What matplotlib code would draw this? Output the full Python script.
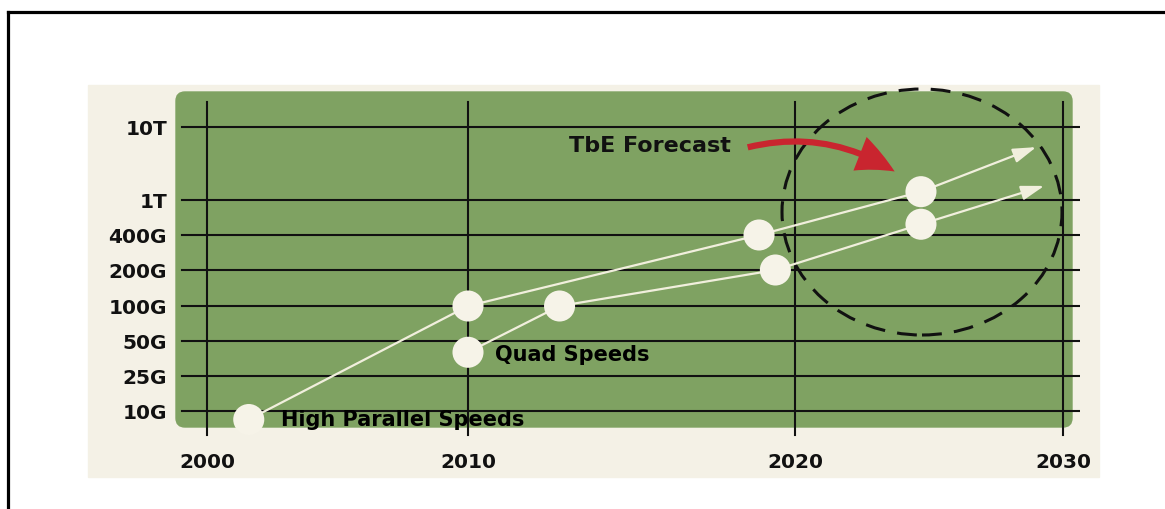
"""Ethernet speed roadmap (TbE forecast) redrawn with matplotlib."""
import matplotlib

matplotlib.use("Agg")
import matplotlib.pyplot as plt  # noqa: E402
import numpy as np  # noqa: E402
from matplotlib.lines import Line2D  # noqa: E402
from matplotlib.patches import Ellipse, FancyArrowPatch, FancyBboxPatch, Rectangle  # noqa: E402

# ---- data -------------------------------------------------------------
YEAR_TICKS = [2000, 2010, 2020, 2030]
RATE_TICKS = [10, 25, 50, 100, 200, 400, 1000, 10000]          # Gb/s
RATE_LABELS = ["10G", "25G", "50G", "100G", "200G", "400G", "1T", "10T"]

PARALLEL_YEARS = [2001.6, 2010.0, 2018.9, 2024.7]
PARALLEL_RATES = [8, 100, 400, 1300]
PARALLEL_NEXT = (2029.0, 5300)

QUAD_YEARS = [2010.0, 2012.8, 2019.4, 2024.7]
QUAD_RATES = [40, 100, 200, 530]
QUAD_NEXT = (2029.3, 1560)

# ---- layout (the original chart has an irregular, hand drawn grid) ----
W, H = 1165, 510
X_TICK_PX = [207, 468, 795, 1063]
Y_TICK_PX = [412, 377, 342, 307, 271, 236, 201, 128]
AX_L, AX_R, AX_T, AX_B = 176, 1080, 86, 440

GREEN = "#7fa262"
BEIGE = "#f4f1e6"
CREAM = "#f6f3e8"
LINE = "#f1efdd"
RED = "#c9252f"

plt.rcParams["font.family"] = ["DejaVu Sans"]
plt.rcParams["font.weight"] = "bold"


def interp_ext(x, xp, fp):
    x = np.asarray(x, dtype=float)
    xp, fp = np.asarray(xp, float), np.asarray(fp, float)
    y = np.interp(x, xp, fp)
    lo, hi = x < xp[0], x > xp[-1]
    y = np.where(lo, fp[0] + (x - xp[0]) * (fp[1] - fp[0]) / (xp[1] - xp[0]), y)
    y = np.where(hi, fp[-1] + (x - xp[-1]) * (fp[-1] - fp[-2]) / (xp[-1] - xp[-2]), y)
    return y


LOGS = np.log10(RATE_TICKS)
NEG_PX = -np.asarray(Y_TICK_PX, float)


def x_fwd(yr):
    return interp_ext(yr, YEAR_TICKS, X_TICK_PX)


def x_inv(p):
    return interp_ext(p, X_TICK_PX, YEAR_TICKS)


def y_fwd(v):
    return interp_ext(np.log10(np.clip(v, 1e-3, None)), LOGS, NEG_PX)


def y_inv(p):
    return 10 ** interp_ext(p, NEG_PX, LOGS)


def fx(x):
    return x / W


def fy(y):
    return 1 - y / H


fig = plt.figure(figsize=(W / 100, H / 100), dpi=100)
fig.patch.set_facecolor("white")
ax = fig.add_axes([fx(AX_L), fy(AX_B), (AX_R - AX_L) / W, (AX_B - AX_T) / H])
ax.patch.set_visible(False)
for s in ax.spines.values():
    s.set_visible(False)

ax.set_xscale("function", functions=(x_fwd, x_inv))
ax.set_yscale("function", functions=(y_fwd, y_inv))
ax.set_xlim(float(x_inv(AX_L)), float(x_inv(AX_R)))
ax.set_ylim(float(y_inv(-AX_B)), float(y_inv(-AX_T)))

# background panels
ax.add_patch(Rectangle((fx(88), fy(478)), (1099 - 88) / W, (478 - 86) / H,
                       transform=fig.transFigure, color=BEIGE, clip_on=False, zorder=0))
ax.add_patch(FancyBboxPatch((fx(176), fy(428)), (1072 - 176) / W, (428 - 93) / H,
                            boxstyle=f"round,pad=0,rounding_size={9 / W}", mutation_aspect=W / H,
                            transform=fig.transFigure, color=GREEN, clip_on=False, zorder=0.5))

# frame lines of the original picture (top and left only)
fig.add_artist(Line2D([fx(8), 1], [fy(13), fy(13)], color="black", lw=2.3))
fig.add_artist(Line2D([fx(8), fx(8)], [fy(13), 0], color="black", lw=2.3))

# grid
span_w, span_h = AX_R - AX_L, AX_B - AX_T
for v in RATE_TICKS:
    ax.axhline(v, xmin=(182 - AX_L) / span_w, xmax=(1079 - AX_L) / span_w,
               color="#111111", lw=1.5, zorder=1)
for yr in YEAR_TICKS:
    ax.axvline(yr, ymin=(AX_B - 436) / span_h, ymax=(AX_B - 103) / span_h,
               color="#111111", lw=1.5, zorder=1)

# forecast ellipse
ax.add_patch(Ellipse(((922 - AX_L) / span_w, (AX_B - 213) / span_h), 280 / span_w, 246 / span_h,
                     transform=ax.transAxes, fill=False, ec="#111111", lw=2.2,
                     ls=(0, (6.5, 4)), clip_on=False, zorder=1.5))

# series
for yrs, rates, nxt in ((PARALLEL_YEARS, PARALLEL_RATES, PARALLEL_NEXT),
                        (QUAD_YEARS, QUAD_RATES, QUAD_NEXT)):
    ax.plot(yrs, rates, color=LINE, lw=1.6, zorder=2, clip_on=False)
    ax.annotate("", xy=nxt, xytext=(yrs[-1], rates[-1]),
                arrowprops=dict(arrowstyle="-|>,head_length=0.7,head_width=0.22", color=LINE,
                                lw=1.6, mutation_scale=20, shrinkA=0, shrinkB=0), zorder=2)
    ax.scatter(yrs, rates, s=500, color=CREAM, edgecolors="none", zorder=3, clip_on=False)

ax.annotate("Quad Speeds", xy=(QUAD_YEARS[0], QUAD_RATES[0]), xytext=(27, -8),
            textcoords="offset pixels", ha="left", va="baseline", fontsize=15, zorder=4)
ax.annotate("High Parallel Speeds", xy=(PARALLEL_YEARS[0], PARALLEL_RATES[0]), xytext=(32, -5),
            textcoords="offset pixels", ha="left", va="baseline", fontsize=15, zorder=4)

# TbE forecast label and red arrow
fig.text(fx(731), fy(152), "TbE Forecast", ha="right", va="baseline", fontsize=16, color="#111111")
ax.add_patch(FancyArrowPatch((fx(745), fy(149)), (fx(897), fy(174)), transform=fig.transFigure,
                             arrowstyle="simple,head_length=2.8,head_width=2.6,tail_width=0.45",
                             connectionstyle="arc3,rad=-0.22", mutation_scale=10,
                             color=RED, lw=0, clip_on=False, zorder=4))

ax.set_xticks(YEAR_TICKS, [str(y) for y in YEAR_TICKS])
ax.set_yticks(RATE_TICKS, RATE_LABELS)
ax.minorticks_off()
ax.tick_params(axis="x", length=0, pad=9, labelsize=14.5, labelcolor="#111111")
ax.tick_params(axis="y", length=0, pad=6.5, labelsize=14.5, labelcolor="#111111")

fig.savefig("out.png", dpi=100)
